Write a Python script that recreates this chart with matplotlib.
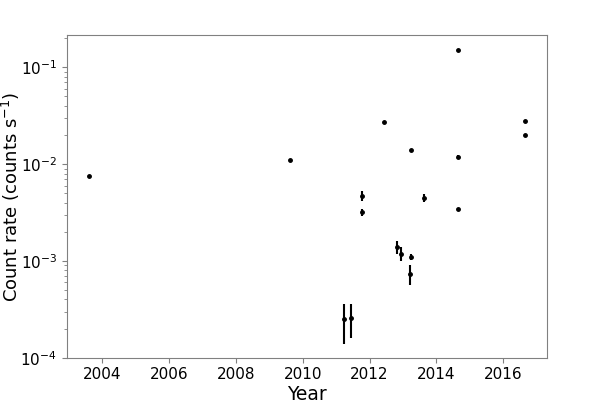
import matplotlib
matplotlib.use("Agg")
import matplotlib.pyplot as plt
import numpy as np

# Data
years = [2003.60, 2009.62, 2011.23, 2011.43, 2011.78, 2011.78, 2012.43, 2012.81,
         2012.93, 2013.20, 2013.25, 2013.25, 2013.64, 2014.66, 2014.66, 2014.66,
         2016.65, 2016.65]
rates = [0.00759, 0.0110, 0.000250, 0.000260, 0.00472, 0.00318, 0.0272, 0.00139,
         0.00119, 0.000733, 0.00110, 0.0140, 0.00450, 0.151, 0.0119, 0.00346,
         0.0199, 0.0279]
errors = [0.0002, 0.0003, 0.000110, 0.000100, 0.00055, 0.00025, 0.0005, 0.00020,
          0.00020, 0.000170, 0.00009, 0.0003, 0.00040, 0.002, 0.0006, 0.00010,
          0.0004, 0.0005]

fig = plt.figure(figsize=(5.98, 4.05), dpi=100)
ax = fig.add_axes([0.1115, 0.1168, 0.8025, 0.7968])

ax.errorbar(years, rates, yerr=errors, fmt='o', color='black', ms=2.5,
            elinewidth=1.5, capsize=0)
ax.set_yscale('log')
ax.set_xlim(2002.93, 2017.30)
ax.set_ylim(1e-4, 0.216)
ax.set_xticks([2004, 2006, 2008, 2010, 2012, 2014, 2016])

ax.set_xlabel('Year', fontsize=13.5, labelpad=2)
ax.set_ylabel('Count rate (counts s$^{-1}$)', fontsize=13)
ax.yaxis.set_label_coords(-0.093, 0.5)
ax.tick_params(axis='both', which='major', labelsize=11, color='#808080')
ax.tick_params(axis='both', which='minor', color='#808080')
for s in ax.spines.values():
    s.set_color('#808080')

fig.savefig('out.png', dpi=100)
